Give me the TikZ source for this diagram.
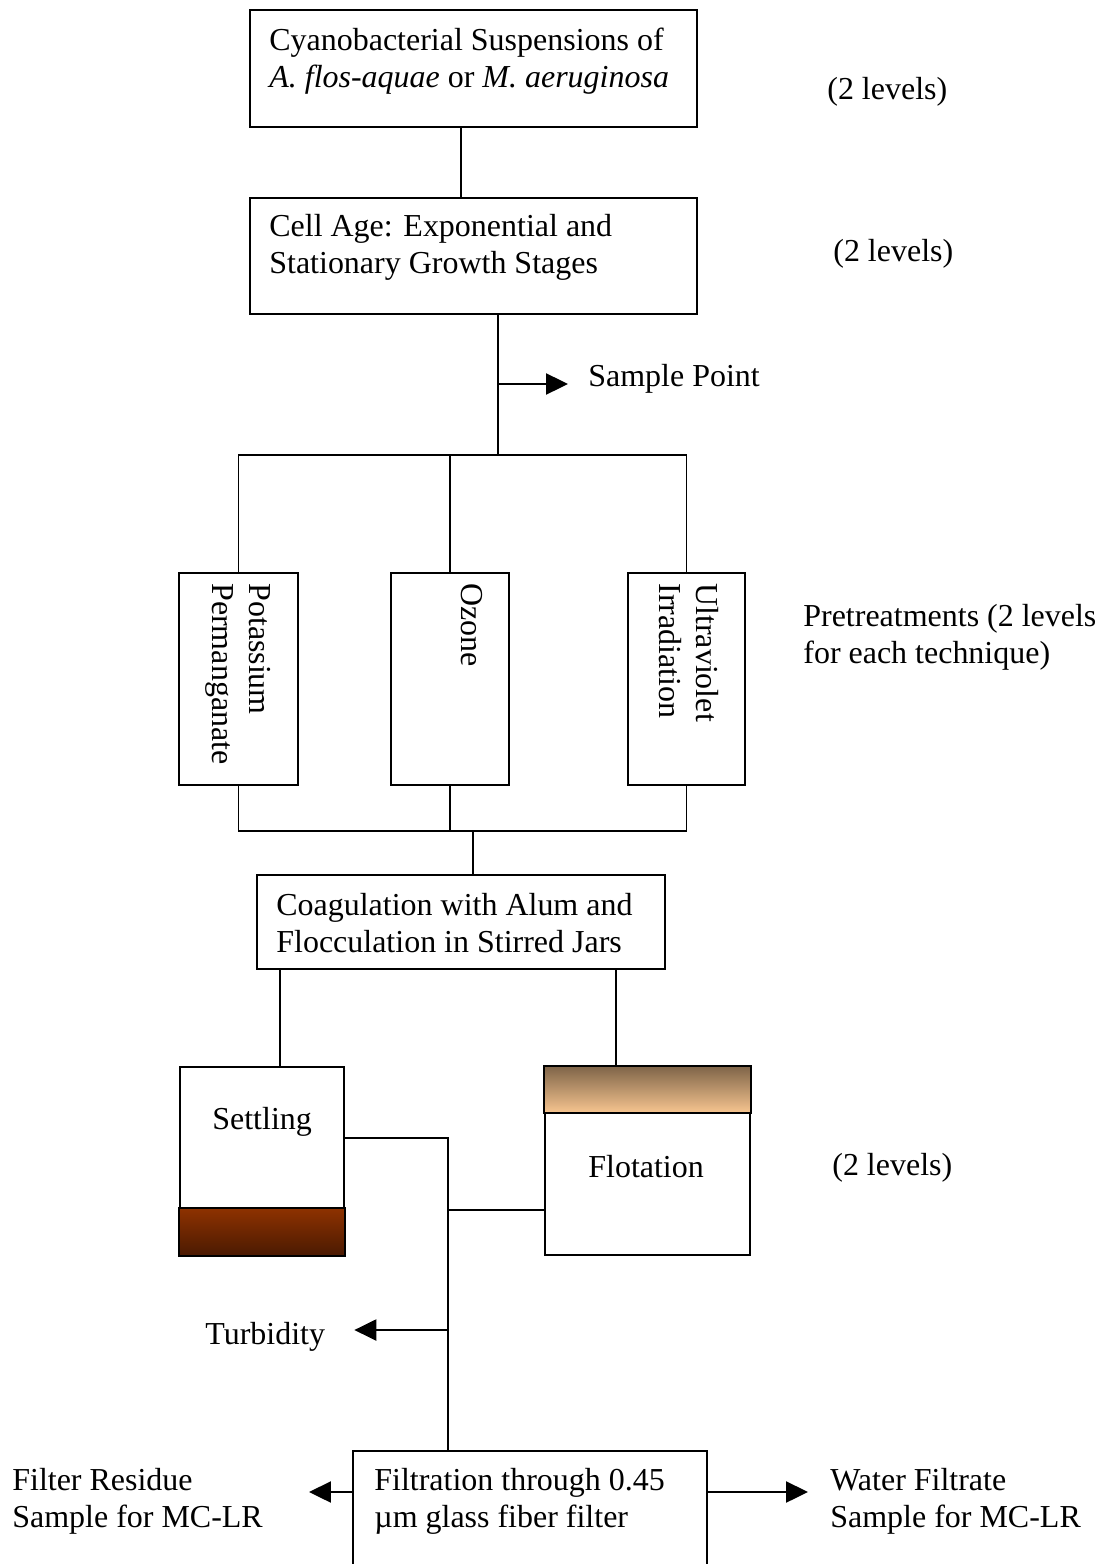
\documentclass[tikz,border=0pt]{standalone}
\usepackage{fontspec}
\setmainfont{Liberation Serif}
\usetikzlibrary{calc,arrows.meta}
\definecolor{rusttop}{HTML}{8E3200}
\definecolor{rustbot}{HTML}{4A1A02}
\definecolor{foamtop}{HTML}{7E6448}
\definecolor{foambot}{HTML}{F7C590}
\newcommand{\pxl}{0.02cm}
\newcommand{\flowfont}{\fontsize{18.2}{21}\selectfont}
\tikzset{
  box/.style={draw, line width=1.1pt, inner sep=0, anchor=north west},
  lbl/.style={font=\flowfont, inner sep=0, align=left, anchor=north west},
  side/.style={font=\flowfont, inner sep=0, anchor=base west},
  turned/.style={lbl, rotate=-90},
  link/.style={line width=1.1pt},
  arr/.style={line width=1.1pt, -{Triangle[length=12.5pt,width=12pt]}},
}

\begin{document}
\begin{tikzpicture}[x=\pxl, y=-\pxl]
  \useasboundingbox (0,0) rectangle (1104,1564);
  \clip (0,0) rectangle (1104,1564);

  % boxes
  \node[box, minimum width=447*\pxl, minimum height=117*\pxl] (src) at (249,9) {};
  \node[box, minimum width=447*\pxl, minimum height=116*\pxl] (age) at (249,197) {};
  \node[box, minimum width=119*\pxl, minimum height=212*\pxl] (pk) at (178,572) {};
  \node[box, minimum width=118*\pxl, minimum height=212*\pxl] (oz) at (390,572) {};
  \node[box, minimum width=117*\pxl, minimum height=212*\pxl] (uv) at (627,572) {};
  \node[box, minimum width=408*\pxl, minimum height=94*\pxl] (coag) at (256,874) {};
  \node[box, minimum width=164*\pxl, minimum height=188*\pxl] (settle) at (179,1066) {};
  \node[box, minimum width=205*\pxl, minimum height=188*\pxl] (flot) at (544,1066) {};
  \node[box, minimum width=354*\pxl, minimum height=140*\pxl] (filt) at (352,1450) {};

  % sludge and float layers
  \shade[top color=rusttop, bottom color=rustbot, draw, line width=1.1pt]
    (settle.south west) rectangle ($(settle.south east)+(0,-48)$);
  \shade[top color=foamtop, bottom color=foambot, draw, line width=1.1pt]
    (flot.north west) rectangle ($(flot.north east)+(0,47)$);

  % box texts
  \node[lbl] (srctxt) at (269,28) {Cyanobacterial Suspensions of\\\textit{A. flos-aquae} or \textit{M. aeruginosa}};
  \node[lbl] (agetxt) at (269,214) {Cell Age: Exponential and\\Stationary Growth Stages};
  \node[turned] (pktxt) at ($(pk.north east)+(-28,11)$) {Potassium\\Permanganate};
  \node[turned] (oztxt) at ($(oz.north east)+(-27,11)$) {Ozone};
  \node[turned] (uvtxt) at ($(uv.north east)+(-27,11)$) {Ultraviolet\\Irradiation};
  \node[lbl] (coagtxt) at (276,893) {Coagulation with Alum and\\Flocculation in Stirred Jars};
  \node[lbl] (settletxt) at (212,1107) {Settling};
  \node[lbl] (flottxt) at (588,1155) {Flotation};
  \node[lbl] (filttxt) at (374,1468) {Filtration through 0.45\\µm glass fiber filter};

  % side notes
  \node[side] (lev1) at (827,100) {(2 levels)};
  \node[side] (lev2) at (833,262) {(2 levels)};
  \node[side] (sample) at (588,386) {Sample Point};
  \node[lbl] (pretr) at (803,604) {Pretreatments (2 levels\\for each technique)};
  \node[side] (lev3) at (832,1175) {(2 levels)};
  \node[side] (turb) at (205,1344) {Turbidity};
  \node[lbl] (resid) at (12,1468) {Filter Residue\\Sample for MC-LR};
  \node[lbl] (filtr) at (830,1468) {Water Filtrate\\Sample for MC-LR};

  % junctions
  \coordinate (j1) at (461,0);
  \coordinate (j2) at (498,455);
  \coordinate (sp) at (498,384);
  \coordinate (spend) at (568,384);
  \coordinate (j3) at (473,831);
  \coordinate (j4) at (280,0);
  \coordinate (j5) at (616,0);
  \coordinate (j6) at (448,1138);
  \coordinate (j7) at (448,1210);
  \coordinate (j8) at (448,1330);
  \coordinate (fl) at (309,1492);
  \coordinate (fr) at (808,1492);

  % connectors
  \draw[link] (src.south -| j1) -- (age.north -| j1);
  \draw[link] (age.south -| j2) -- (j2);
  \draw[arr] (sp) -- (spend);
  \draw[link] (pk.north) |- (j2) -| (uv.north);
  \draw[link] (oz.north) -- (oz.north |- j2);
  \draw[link] (pk.south) |- (j3) -| (uv.south);
  \draw[link] (oz.south) -- (oz.south |- j3);
  \draw[link] (j3) -- (coag.north -| j3);
  \draw[link] (coag.south -| j4) -- (settle.north -| j4);
  \draw[link] (coag.south -| j5) -- (flot.north -| j5);
  \draw[link] (j6 -| settle.east) -- (j6) -- (filt.north -| j6);
  \draw[link] (j7 -| flot.west) -- (j7);
  \draw[arr, shorten >=29*\pxl] (j8) -- (j8 -| turb.east);
  \draw[arr] (fl -| filt.west) -- (fl);
  \draw[arr] (fr -| filt.east) -- (fr);
\end{tikzpicture}
\end{document}
